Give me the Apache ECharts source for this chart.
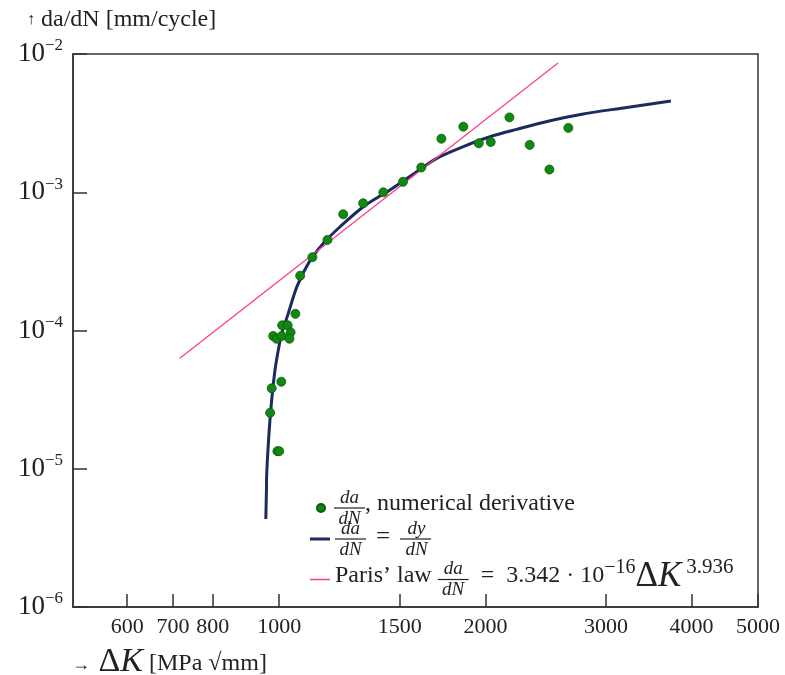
<!DOCTYPE html>
<html><head><meta charset="utf-8">
<script src="https://cdn.jsdelivr.net/npm/echarts@6/dist/echarts.min.js"></script>
<style>html,body{margin:0;padding:0;background:#fff}#c{width:785px;height:675px}</style>
</head><body><div id="c"></div>
<script>
// ---- data ----
const xTickValues = [600, 700, 800, 1000, 1500, 2000, 3000, 4000, 5000];
const derivK = [970, 975, 994, 1000, 1007, 980, 991, 1010, 1008, 1029, 1039, 1035, 1056, 1073, 1118, 1176, 1240, 1326, 1419, 1516, 1612, 1725, 1857, 1956, 2036, 2168, 2321, 2480, 2643];
const derivRate = [2.54e-5, 3.82e-5, 1.34e-5, 1.34e-5, 4.26e-5, 9.12e-5, 8.72e-5, 1.09e-4, 9.12e-5, 1.09e-4, 9.70e-5, 8.72e-5, 1.32e-4, 2.49e-4, 3.39e-4, 4.52e-4, 6.93e-4, 8.32e-4, 9.99e-4, 1.19e-3, 1.51e-3, 2.44e-3, 2.98e-3, 2.26e-3, 2.31e-3, 3.48e-3, 2.20e-3, 1.46e-3, 2.92e-3];
const fitK = [956, 958, 958.5, 967, 975, 986, 997, 1008, 1031, 1061, 1103, 1160, 1227, 1327, 1451, 1588, 1698, 1857, 2031, 2222, 2486, 2779, 3144, 3732];
const fitRate = [4.33e-6, 7.02e-6, 8.76e-6, 1.91e-5, 3.14e-5, 5.18e-5, 7.23e-5, 9.43e-5, 1.33e-4, 2.07e-4, 3.06e-4, 4.27e-4, 5.63e-4, 7.86e-4, 1.04e-3, 1.41e-3, 1.76e-3, 2.14e-3, 2.52e-3, 2.85e-3, 3.29e-3, 3.68e-3, 4.04e-3, 4.57e-3];
const parisK = [716, 2553];
const parisRate = [6.3e-5, 8.6e-3];
const seriesNames = ['numerical derivative', 'fit', 'Paris law'];

// ---- styling helpers ----
const SERIF = '"Liberation Serif", "Times New Roman", serif';
const INK = '#222';
const cv = document.createElement('canvas').getContext('2d');
function tw(text, size, style) { cv.font = (style || 'normal') + ' ' + size + 'px "Liberation Serif"'; return cv.measureText(text).width; }
const FR = 19; // fraction font size
const fracW = Math.ceil(tw('dN', FR, 'italic')) + 8;
function fracStyle(t) {
  const w = tw(t, FR, 'italic');
  const l = Math.max(0, (fracW - w) / 2);
  return { fontFamily: SERIF, fontStyle: 'italic', fontSize: FR, lineHeight: 16, color: INK, padding: [0, fracW - w - l, 0, l] };
}
const TXT = 24;
const EQP = 10;
const eqW = Math.ceil(tw('=', 25)) + 2 * EQP;
const parisW = tw('Paris\u2019 law ', TXT);
const rich = {
  nda: fracStyle('da'), ndy: fracStyle('dy'), ddn: fracStyle('dN'),
  bar: { width: fracW, height: 1.2, lineHeight: 5, backgroundColor: INK },
  txt: { fontFamily: SERIF, fontSize: TXT, lineHeight: 5, color: INK, padding: [0, 0, 8, 0] },
  eq: { fontFamily: SERIF, fontSize: 25, lineHeight: 5, color: INK, padding: [0, EQP, 4, EQP] },
  gap: { width: eqW, lineHeight: 16 },
  sp: { width: parisW, lineHeight: 16 },
  sup: { fontFamily: SERIF, fontSize: 20, lineHeight: 5, color: INK, padding: [0, 0, 24, 0] },
  sup2: { fontFamily: SERIF, fontSize: 21, lineHeight: 5, color: INK, padding: [0, 0, 24, 5] },
  big: { fontFamily: SERIF, fontSize: 35, lineHeight: 5, color: INK, padding: [0, 0, 6, 0] },
  bigK: { fontFamily: SERIF, fontStyle: 'italic', fontSize: 35, lineHeight: 5, color: INK, padding: [0, 0, 6, 0] }
};
const legendLabels = [
  '{nda|da}\n{bar|}{txt|, numerical derivative}\n{ddn|dN}',
  '{nda|da}{gap|}{ndy|dy}\n{bar|}{eq|=}{bar|}\n{ddn|dN}{gap|}{ddn|dN}',
  '{sp|}{nda|da}\n{txt|Paris\u2019 law }{bar|}{txt|  =  3.342 \u00b7 10}{sup|\u221216}{big|\u0394}{bigK|K}{sup2|3.936}\n{sp|}{ddn|dN}'
];
const legendTops = [488, 519, 557];
const legendLefts = [316, 310, 310];
const legendIcons = ['circle', 'rect', 'rect'];
const legendIconH = [8, 3, 1.5];
const legends = seriesNames.map((n, i) => ({
  data: [{ name: n, icon: legendIcons[i] }], left: legendLefts[i], top: legendTops[i], padding: 0, orient: 'vertical',
  itemWidth: i === 0 ? 16 : 20, itemHeight: legendIconH[i], selectedMode: false,
  formatter: () => legendLabels[i],
  textStyle: { rich: rich }
}));

const chart = echarts.init(document.getElementById('c'), null, { renderer: 'canvas' });
chart.setOption({
  animation: false,
  backgroundColor: '#fff',
  title: [
    { text: '{ar|\u2191} da/dN [mm/cycle]', left: 22, top: 3,
      textStyle: { fontFamily: SERIF, fontSize: 24, fontWeight: 'normal', color: INK, rich: { ar: { fontFamily: SERIF, fontSize: 16, color: INK } } } },
    { text: '{ar|\u2192}{D| \u0394}{K|K}{t| [MPa \u221Amm]}', left: 67, top: 640,
      textStyle: { fontFamily: SERIF, fontSize: 23, fontWeight: 'normal', color: INK,
        rich: { ar: { fontFamily: SERIF, fontSize: 18, color: INK, padding: [6, 0, 0, 0] },
                D: { fontFamily: SERIF, fontSize: 34, color: INK },
                K: { fontFamily: SERIF, fontStyle: 'italic', fontSize: 34, color: INK },
                t: { fontFamily: SERIF, fontSize: 24, color: INK, padding: [4, 0, 0, 0] } } } }
  ],
  legend: legends,
  grid: { left: 73, right: 27, top: 54, bottom: 68, show: true, borderColor: '#333', borderWidth: 1.5, backgroundColor: 'transparent' },
  xAxis: {
    type: 'log', logBase: 10, min: 500, max: 5000,
    axisLine: { show: true, lineStyle: { color: '#333', width: 1.5 } },
    axisTick: { show: true, inside: true, length: 13, customValues: xTickValues, lineStyle: { color: '#333', width: 1.5 } },
    axisLabel: { customValues: xTickValues, margin: 9, fontFamily: SERIF, fontSize: 22, color: INK, formatter: v => String(Math.round(v)) },
    splitLine: { show: false }, minorTick: { show: false }
  },
  yAxis: {
    type: 'log', logBase: 10, min: 1e-6, max: 1e-2,
    axisLine: { show: true, lineStyle: { color: '#333', width: 1.5 } },
    axisTick: { show: true, inside: true, length: 14, lineStyle: { color: '#333', width: 1.5 } },
    axisLabel: { margin: 10,
      formatter: v => '{a|10}{b|\u2212' + Math.round(-Math.log10(v)) + '}',
      rich: { a: { fontFamily: SERIF, fontSize: 27, color: INK }, b: { fontFamily: SERIF, fontSize: 17, color: INK, padding: [0, 0, 16, 0] } } },
    splitLine: { show: false }, minorTick: { show: false }
  },
  series: [
    { name: seriesNames[0], type: 'scatter', z: 5, symbolSize: 9,
      itemStyle: { color: '#118811', borderColor: '#0a5a0a', borderWidth: 0.8, opacity: 1 },
      data: derivK.map((k, i) => [k, derivRate[i]]) },
    { name: seriesNames[1], type: 'line', z: 3, symbol: 'none', smooth: 0.3,
      lineStyle: { color: '#1b2b5e', width: 3 }, itemStyle: { color: '#1b2b5e' },
      data: fitK.map((k, i) => [k, fitRate[i]]) },
    { name: seriesNames[2], type: 'line', z: 4, symbol: 'none',
      lineStyle: { color: '#ff3d85', width: 1.3 }, itemStyle: { color: '#ff3d85' },
      data: parisK.map((k, i) => [k, parisRate[i]]) }
  ]
});
</script></body></html>
